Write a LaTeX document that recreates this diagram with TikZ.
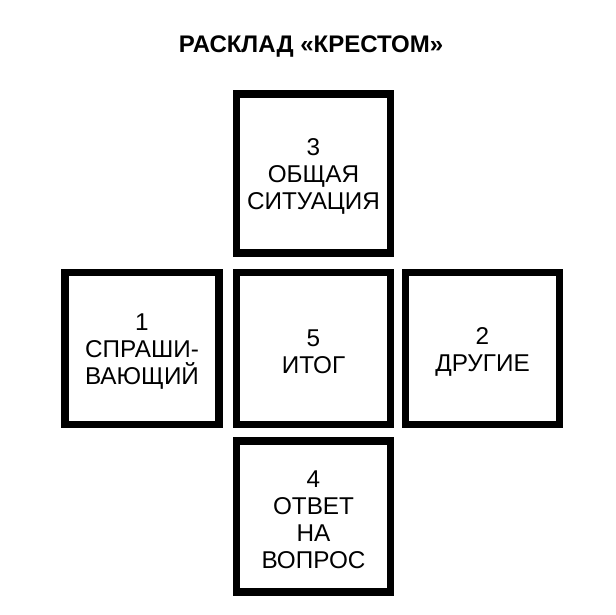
\documentclass[tikz,border=0pt]{standalone}
\usepackage{fontspec}
\setmainfont{Liberation Sans}
\begin{document}
\begin{tikzpicture}[x=1pt,y=1pt,
  card/.style={draw=black,line width=7.5pt,fill=white,minimum width=154pt,minimum height=156pt,inner sep=0pt},
  cardtext/.style={inner sep=0pt,align=center,font=\fontsize{24.3}{27}\selectfont,yshift=-3pt},
  ttl/.style={font=\fontsize{24}{28}\selectfont\bfseries}]
\useasboundingbox (0,0) rectangle (616,615);
\node[ttl] (title) at (311,568) {РАСКЛАД «КРЕСТОМ»};
\node[card,minimum height=159pt] (c3) at (313.5,441.5) {};
\node[cardtext] (t3) at (c3) {3\\ОБЩАЯ\\СИТУАЦИЯ};
\node[card,minimum height=152pt] (c5) at (313.5,266.5) {};
\node[cardtext] (t5) at (c5) {5\\ИТОГ};
\node[card,minimum height=152pt] (c1) at (142,266.5) {};
\node[cardtext] (t1) at (c1) {1\\СПРАШИ-\\ВАЮЩИЙ};
\node[card,minimum height=152pt] (c2) at (482.5,266.5) {};
\node[cardtext] (t2) at (c2) {2\\ДРУГИЕ};
\node[card,minimum height=151pt] (c4) at (313.5,98.5) {};
\node[cardtext] (t4) at (c4) {4\\ОТВЕТ\\НА\\ВОПРОС};
\end{tikzpicture}
\end{document}
